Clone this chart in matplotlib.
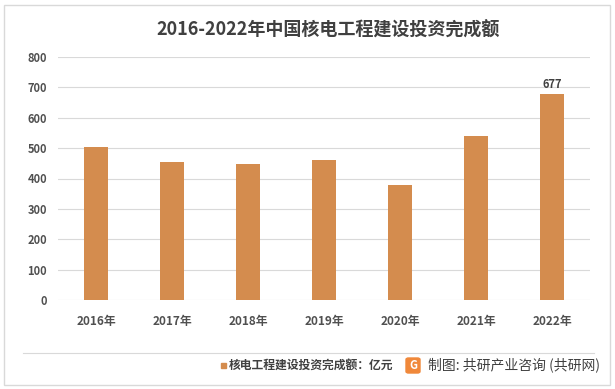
import matplotlib
matplotlib.use("Agg")
import matplotlib.pyplot as plt
from matplotlib.patches import Rectangle, FancyBboxPatch
from matplotlib.lines import Line2D

plt.rcParams['font.family'] = ['Noto Sans CJK SC', 'DejaVu Sans']

categories = ["2016年", "2017年", "2018年", "2019年", "2020年", "2021年", "2022年"]
values = [503, 454, 448, 461, 379, 540, 677]
yticks = [0, 100, 200, 300, 400, 500, 600, 700, 800]
title = "2016-2022年中国核电工程建设投资完成额"
legend_label = "核电工程建设投资完成额：亿元"
source = "制图: 共研产业咨询 (共研网)"

bar_color = "#D48C4E"
text_color = "#404040"

W, H = 615, 389
fig = plt.figure(figsize=(W/100, H/100), dpi=100)
ax = fig.add_axes([58/W, 1-300/H, (590-58)/W, (300-57)/H])

x = list(range(len(categories)))
ax.bar(x, values, width=0.32, color=bar_color, zorder=3)
ax.set_xlim(-0.5, len(categories)-0.5)
ax.set_ylim(0, 800)
ax.set_yticks(yticks)
ax.set_yticklabels([str(v) for v in yticks], fontsize=8, color="#505050", fontweight='bold')
ax.set_xticks(x)
ax.set_xticklabels(categories, fontsize=8.5, color="#505050", fontweight='bold')
ax.tick_params(axis='both', length=0)
ax.tick_params(axis='y', pad=8)
ax.tick_params(axis='x', pad=11)
ax.grid(axis='y', color="#D9D9D9", linewidth=0.8, zorder=0)
for s in ax.spines.values():
    s.set_visible(False)

ax.text(x[-1], values[-1] + 12, str(values[-1]), ha='center', va='bottom',
        fontsize=8, fontweight='bold', color=text_color)

fig.text(328/W, 1-30/H, title, ha='center', va='center', fontsize=13,
         fontweight='bold', color=text_color)

# outer frame
fig.patches.append(Rectangle((4/W, 4/H), (W-9)/W, (H-9)/H, transform=fig.transFigure,
                             fill=False, edgecolor="#D9D9D9", linewidth=1))
# separator line
fig.lines.append(Line2D([23/W, 594/W], [1-353/H, 1-353/H], transform=fig.transFigure,
                        color="#D9D9D9", linewidth=0.8))

# legend
fig.patches.append(Rectangle((221/W, 1-368/H), 5/W, 5/H, transform=fig.transFigure,
                             color=bar_color))
fig.text(229/W, 1-365/H, legend_label, ha='left', va='center', fontsize=8.5,
         color=text_color, fontweight='bold')

# logo
fig.patches.append(FancyBboxPatch((406/W, 1-373/H), 14/W, 15/H, transform=fig.transFigure,
                                  boxstyle="round,pad=0,rounding_size=0.004",
                                  color="#F0883A"))
fig.text(413/W, 1-365.5/H, "G", ha='center', va='center', fontsize=8,
         fontweight='bold', color='white')
fig.text(428/W, 1-365/H, source, ha='left', va='center', fontsize=10,
         color=text_color)

fig.savefig("out.png", dpi=100)
